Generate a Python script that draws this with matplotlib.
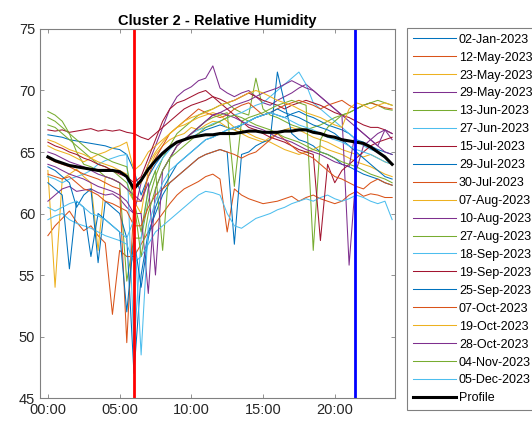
import matplotlib
matplotlib.use("Agg")
import matplotlib.pyplot as plt
import numpy as np

plt.rcParams['font.family'] = ['Liberation Sans', 'DejaVu Sans']

# half-hourly readings, 00:00 .. 24:00
hours = np.arange(49) * 0.5

dates = ["02-Jan-2023", "12-May-2023", "23-May-2023", "29-May-2023", "13-Jun-2023",
         "27-Jun-2023", "15-Jul-2023", "29-Jul-2023", "30-Jul-2023", "07-Aug-2023",
         "10-Aug-2023", "27-Aug-2023", "18-Sep-2023", "19-Sep-2023", "25-Sep-2023",
         "07-Oct-2023", "19-Oct-2023", "28-Oct-2023", "04-Nov-2023", "05-Dec-2023"]

rh_02jan = [66.4, 66.3, 66.2, 66.0, 65.9, 65.8, 65.7, 65.6, 65.5, 65.3, 65.2, 64.8,
            63.5, 61.5, 63.0, 64.0, 64.8, 65.3, 65.8, 66.0, 66.2, 66.5, 66.8, 67.0,
            67.2, 67.0, 66.8, 67.2, 67.5, 67.8, 68.0, 68.2, 68.0, 67.8, 68.1, 68.3,
            68.0, 67.8, 67.5, 67.2, 67.0, 66.8, 66.5, 66.0, 65.8, 65.5, 65.2, 65.0,
            64.8]
rh_12may = [58.2, 59.0, 59.6, 60.2, 59.3, 58.6, 59.0, 58.2, 57.6, 51.8, 57.0, 56.5,
            56.5, 57.5, 58.5, 59.2, 60.0, 60.8, 61.5, 62.0, 62.3, 62.6, 63.0, 63.2,
            62.8, 58.5, 62.0, 61.5, 61.2, 61.0, 60.8, 60.9, 61.0, 61.2, 61.4, 61.0,
            61.3, 61.5, 61.2, 61.0, 60.8, 61.0, 61.5, 61.8, 61.4, 61.6, 61.5, 61.3,
            61.3]
rh_23may = [63.5, 54.0, 62.8, 63.2, 63.6, 63.0, 62.5, 57.0, 63.0, 62.8, 62.5, 62.0,
            61.0, 60.0, 63.5, 64.8, 65.5, 66.0, 66.3, 66.5, 67.0, 66.8, 67.2, 67.5,
            67.4, 67.0, 66.8, 66.5, 66.2, 66.0, 65.8, 66.2, 66.5, 66.8, 67.0, 66.8,
            66.5, 66.2, 66.0, 65.8, 65.5, 65.2, 65.0, 64.8, 64.6, 64.8, 64.5, 64.2,
            64.0]
rh_29may = [61.0, 61.5, 62.0, 62.2, 61.8, 61.9, 62.0, 61.7, 61.5, 61.6, 61.2, 60.5,
            60.0, 62.5, 64.0, 65.5, 67.0, 68.5, 69.5, 70.0, 70.3, 70.8, 71.0, 72.0,
            70.2, 69.8, 69.5, 69.8, 70.0, 69.5, 69.0, 68.8, 69.2, 69.5, 69.8, 70.2,
            70.5, 70.0, 69.5, 69.0, 68.5, 68.0, 67.5, 67.0, 66.5, 66.0, 65.5, 65.0,
            64.8]
rh_13jun = [68.3, 68.0, 67.5, 66.5, 65.0, 64.0, 63.8, 63.5, 63.0, 62.8, 62.5, 54.5,
            58.0, 58.0, 61.0, 63.0, 64.5, 65.5, 66.5, 67.0, 67.5, 68.0, 68.3, 68.5,
            68.8, 69.0, 68.5, 68.2, 68.0, 71.0, 68.5, 68.0, 67.8, 67.5, 67.2, 67.0,
            66.8, 67.0, 67.2, 67.5, 67.8, 68.0, 68.2, 68.5, 68.8, 69.0, 68.8, 68.5,
            68.4]
rh_27jun = [63.0, 62.8, 62.5, 62.8, 63.0, 63.2, 63.5, 64.0, 64.3, 64.5, 64.7, 64.8,
            49.0, 58.0, 62.0, 63.5, 64.5, 65.2, 65.8, 66.0, 66.5, 66.8, 67.0, 67.3,
            67.5, 67.8, 68.0, 68.2, 68.5, 68.8, 69.0, 69.5, 70.0, 70.5, 71.0, 71.5,
            70.5, 69.0, 68.5, 68.0, 67.5, 67.0, 66.5, 66.0, 65.5, 65.2, 65.0, 64.5,
            64.0]
rh_15jul = [66.8, 66.7, 66.8, 66.6, 66.7, 66.8, 66.9, 66.7, 66.8, 66.7, 66.8, 66.6,
            66.5, 66.2, 66.0, 66.5, 67.0, 67.5, 68.0, 68.5, 68.8, 69.0, 69.2, 69.5,
            69.3, 69.0, 69.2, 69.5, 69.8, 69.5, 69.2, 69.0, 68.8, 68.5, 68.8, 69.0,
            69.2, 69.0, 68.8, 68.5, 68.2, 68.0, 67.8, 67.5, 67.2, 67.0, 67.0, 66.8,
            66.5]
rh_29jul = [63.8, 63.5, 63.0, 62.5, 60.5, 61.5, 62.0, 56.0, 61.0, 60.5, 60.0, 58.0,
            47.0, 55.0, 58.5, 60.0, 61.5, 62.5, 63.0, 63.5, 64.0, 64.5, 64.8, 65.0,
            65.2, 65.0, 57.5, 64.8, 65.0, 65.5, 65.8, 66.0, 71.5, 69.0, 66.5, 66.0,
            65.8, 65.5, 65.0, 64.8, 64.5, 64.0, 63.8, 63.5, 63.2, 63.0, 62.8, 62.5,
            62.3]
rh_30jul = [64.5, 64.2, 64.0, 63.8, 63.5, 63.2, 63.0, 62.8, 62.5, 62.2, 62.0, 49.5,
            61.0, 61.0, 63.0, 64.5, 65.5, 66.5, 67.0, 67.5, 68.0, 68.5, 68.2, 68.0,
            67.8, 68.0, 68.5, 68.8, 69.0, 68.5, 68.0, 68.2, 68.5, 68.8, 69.0, 69.2,
            69.0, 68.8, 68.5, 68.8, 69.0, 69.2, 68.8, 68.5, 68.8, 69.0, 68.8, 68.6,
            68.5]
rh_07aug = [65.5, 65.2, 65.0, 64.8, 64.5, 64.2, 64.5, 64.8, 65.0, 65.3, 65.5, 65.8,
            63.5, 64.0, 65.0, 65.5, 66.0, 66.5, 67.0, 67.2, 67.5, 67.8, 68.0, 68.2,
            68.0, 67.5, 67.0, 66.8, 66.5, 66.2, 66.0, 65.8, 65.5, 65.2, 65.0, 64.8,
            65.0, 65.2, 65.5, 65.2, 65.0, 64.8, 64.5, 64.2, 64.0, 63.8, 63.5, 63.2,
            63.0]
rh_10aug = [64.0, 63.8, 63.5, 63.2, 63.0, 62.8, 62.5, 62.2, 62.0, 61.8, 61.5, 61.0,
            60.0, 60.0, 53.5, 62.0, 63.5, 64.5, 65.5, 66.0, 66.5, 67.0, 67.5, 68.0,
            68.2, 68.5, 68.8, 69.0, 69.2, 69.5, 69.8, 70.0, 70.2, 70.5, 70.8, 70.5,
            70.2, 70.0, 69.5, 69.0, 68.5, 68.0, 55.8, 63.5, 65.5, 66.0, 66.5, 66.8,
            66.0]
rh_27aug = [67.2, 67.0, 66.5, 66.0, 65.5, 65.0, 64.5, 64.0, 63.8, 63.5, 63.0, 62.5,
            61.0, 58.5, 62.0, 63.5, 57.0, 64.5, 65.5, 66.0, 66.5, 67.0, 67.5, 67.8,
            68.0, 68.2, 62.2, 67.5, 67.8, 68.0, 68.2, 68.5, 68.8, 69.0, 69.2, 69.0,
            68.8, 57.0, 66.0, 67.0, 67.5, 68.0, 68.2, 68.5, 68.8, 69.0, 69.2, 69.0,
            68.8]
rh_18sep = [59.5, 59.8, 60.0, 59.5, 59.2, 59.0, 58.8, 58.5, 58.2, 58.0, 57.8, 57.5,
            56.0, 56.5, 57.5, 58.5, 59.0, 59.5, 60.0, 60.5, 61.0, 61.5, 61.8, 61.7,
            61.5, 60.0, 59.0, 58.8, 59.2, 59.6, 59.8, 60.0, 60.3, 60.5, 60.8, 61.0,
            61.2, 61.0, 61.3, 61.5, 61.2, 61.0, 61.2, 61.5, 61.3, 61.0, 60.8, 61.0,
            59.5]
rh_19sep = [65.8, 65.5, 65.3, 65.0, 64.8, 64.5, 64.3, 64.0, 63.8, 63.5, 63.2, 63.0,
            62.5, 63.0, 64.5, 66.0, 67.5, 68.5, 69.0, 69.2, 69.5, 69.8, 70.0, 69.5,
            69.0, 68.5, 68.0, 67.5, 67.0, 66.8, 66.5, 66.2, 66.0, 65.8, 65.5, 65.2,
            65.0, 64.8, 57.8, 64.0, 62.5, 63.5, 64.0, 64.5, 65.0, 65.5, 65.8, 66.0,
            66.2]
rh_25sep = [62.5, 62.0, 61.5, 55.5, 61.0, 60.5, 56.5, 60.0, 59.5, 59.0, 58.5, 52.0,
            58.0, 54.0, 58.0, 60.5, 62.0, 63.0, 64.0, 64.5, 65.0, 65.5, 66.0, 66.2,
            66.5, 66.8, 67.0, 67.2, 67.5, 67.8, 68.0, 68.2, 68.5, 68.2, 68.0, 67.8,
            67.5, 67.2, 67.0, 66.8, 66.5, 66.0, 65.5, 65.0, 64.5, 64.0, 63.5, 63.0,
            62.8]
rh_07oct = [63.2, 63.0, 62.8, 63.0, 62.5, 62.0, 61.8, 61.5, 61.0, 60.8, 60.5, 60.2,
            59.0, 59.0, 60.5, 61.5, 62.0, 62.5, 63.0, 63.5, 64.0, 64.5, 64.8, 65.0,
            65.2, 65.0, 64.8, 64.5, 64.8, 65.0, 65.5, 66.0, 66.5, 66.0, 65.5, 65.0,
            64.8, 64.5, 64.0, 63.5, 63.0, 62.8, 62.5, 62.2, 62.0, 62.5, 62.8, 62.5,
            62.3]
rh_19oct = [66.0, 65.8, 65.5, 65.2, 65.0, 64.8, 64.5, 64.2, 64.0, 63.8, 63.5, 63.2,
            62.0, 62.5, 64.0, 65.0, 65.8, 66.5, 67.0, 67.5, 67.8, 68.0, 68.2, 68.5,
            68.8, 69.0, 69.2, 69.5, 69.8, 70.0, 69.8, 69.5, 69.2, 69.0, 68.8, 68.5,
            68.2, 68.0, 67.8, 67.5, 67.2, 67.0, 68.5, 69.0, 68.8, 68.5, 68.8, 69.0,
            68.8]
rh_28oct = [65.0, 64.8, 64.5, 64.2, 64.0, 63.8, 63.5, 63.2, 63.0, 62.8, 62.5, 62.0,
            61.5, 61.0, 62.5, 55.0, 63.5, 64.5, 65.5, 66.0, 66.5, 67.0, 67.5, 68.0,
            68.2, 68.0, 67.8, 67.5, 67.2, 67.0, 66.8, 66.5, 66.2, 66.0, 65.8, 65.5,
            65.2, 65.0, 64.8, 64.5, 64.2, 64.0, 63.8, 67.0, 66.5, 66.0, 65.5, 66.8,
            66.5]
rh_04nov = [67.8, 67.5, 67.0, 66.5, 66.0, 65.5, 65.0, 64.8, 64.5, 64.2, 64.0, 63.8,
            61.0, 56.5, 60.0, 62.0, 63.5, 64.5, 65.0, 65.5, 66.0, 66.5, 67.0, 67.2,
            67.5, 67.8, 68.0, 67.8, 67.5, 67.2, 67.0, 66.8, 66.5, 66.2, 66.0, 65.8,
            65.5, 65.2, 65.0, 64.8, 64.5, 64.2, 64.0, 63.8, 63.5, 63.2, 63.0, 62.8,
            62.5]
rh_05dec = [60.5, 60.2, 60.5, 60.8, 61.0, 60.5, 60.0, 59.8, 59.5, 59.0, 58.5, 58.0,
            59.5, 48.5, 59.0, 61.0, 62.5, 63.5, 64.0, 64.5, 65.0, 65.5, 66.0, 66.2,
            66.5, 66.8, 67.0, 67.2, 67.5, 67.8, 68.0, 68.2, 68.0, 67.8, 67.5, 67.2,
            67.0, 66.8, 66.5, 66.2, 66.0, 65.8, 65.5, 65.2, 65.0, 64.8, 64.5, 64.2,
            64.0]

profile = [64.6, 64.3, 64.1, 63.9, 63.8, 63.7, 63.6, 63.5, 63.5, 63.5, 63.4, 63.0,
           62.0, 62.7, 63.6, 64.3, 64.9, 65.4, 65.8, 66.0, 66.2, 66.3, 66.4, 66.4,
           66.5, 66.5, 66.5, 66.6, 66.7, 66.7, 66.6, 66.6, 66.6, 66.7, 66.7, 66.8,
           66.8, 66.6, 66.5, 66.3, 66.2, 66.0, 65.9, 65.8, 65.7, 65.4, 65.0, 64.6,
           64.0]

series = [rh_02jan, rh_12may, rh_23may, rh_29may, rh_13jun, rh_27jun, rh_15jul,
          rh_29jul, rh_30jul, rh_07aug, rh_10aug, rh_27aug, rh_18sep, rh_19sep,
          rh_25sep, rh_07oct, rh_19oct, rh_28oct, rh_04nov, rh_05dec]

start_hour = 6.0
end_hour = 21.4

# MATLAB default line colours
colors = ['#0072BD', '#D95319', '#EDB120', '#7E2F8E', '#77AC30', '#4DBEEE', '#A2142F']

fig = plt.figure(figsize=(5.32, 4.23), dpi=100)
ax = fig.add_axes([40 / 532, 1 - 398 / 423, 355 / 532, 369 / 423])

for i, (d, vals) in enumerate(zip(dates, series)):
    ax.plot(hours, vals, color=colors[i % 7], lw=0.75, label=d)
ax.plot(hours, profile, color='black', lw=2.2, label='Profile')

ax.axvline(start_hour, color='#FF0000', lw=2.0)
ax.axvline(end_hour, color='#0000FF', lw=2.0)

ax.set_xlim(-0.55, 24.2)
ax.set_ylim(45, 75)
ax.set_xticks([0, 5, 10, 15, 20])
ax.set_xticklabels(['00:00', '05:00', '10:00', '15:00', '20:00'])
ax.set_yticks(np.arange(45, 76, 5))

grey = '#262626'
for s in ax.spines.values():
    s.set_color('#808080')
    s.set_linewidth(0.8)
ax.tick_params(direction='in', top=True, right=True, length=3, width=0.6,
               colors='#808080', labelcolor=grey, labelsize=10.5)

ax.set_title('Cluster 2 - Relative Humidity', fontsize=10.5, fontweight='bold',
             color='black', pad=3)

leg = ax.legend(loc='upper left', bbox_to_anchor=(407 / 532, 1 - 28 / 423),
                bbox_transform=fig.transFigure, fontsize=9.0, frameon=True,
                fancybox=False, edgecolor='#808080', framealpha=1,
                borderaxespad=0, handlelength=3.45, handletextpad=0.25,
                labelspacing=0.475, borderpad=0.45)
leg.get_frame().set_linewidth(0.8)
for t in leg.get_texts():
    t.set_color('black')

fig.savefig('out.png', dpi=100)
